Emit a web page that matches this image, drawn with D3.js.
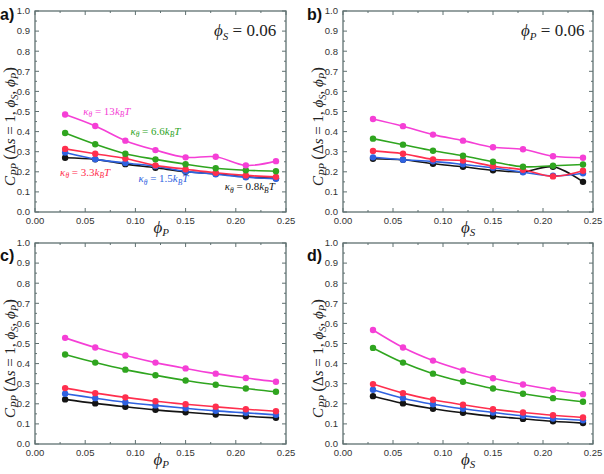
<!DOCTYPE html>
<html><head><meta charset="utf-8">
<script src="https://cdn.jsdelivr.net/npm/d3@7"></script>
<style>body{margin:0;background:#fff}svg{display:block}</style>
</head><body>
<svg id="c" width="604" height="474"></svg>
<script>
const xValues = [0.03, 0.06, 0.09, 0.12, 0.15, 0.18, 0.21, 0.24];
const xTicks = [0.00, 0.05, 0.10, 0.15, 0.20, 0.25];
const yTicks = [0.0, 0.1, 0.2, 0.3, 0.4, 0.5, 0.6, 0.7, 0.8, 0.9, 1.0];
const seriesNames = ["0.8", "1.5", "3.3", "6.6", "13"];
const seriesColors = ["#141414", "#2f62e0", "#ff2f4e", "#2fa51f", "#f53fd6"];

// panel a: phi_S = 0.06, x = phi_P
const aBlack   = [0.270, 0.262, 0.238, 0.220, 0.200, 0.190, 0.175, 0.168];
const aBlue    = [0.296, 0.263, 0.244, 0.228, 0.202, 0.188, 0.173, 0.165];
const aRed     = [0.314, 0.290, 0.266, 0.232, 0.213, 0.195, 0.182, 0.175];
const aGreen   = [0.393, 0.337, 0.290, 0.262, 0.238, 0.218, 0.208, 0.203];
const aMagenta = [0.485, 0.428, 0.355, 0.308, 0.272, 0.275, 0.232, 0.253];
// panel b: phi_P = 0.06, x = phi_S
const bBlack   = [0.265, 0.260, 0.240, 0.225, 0.208, 0.200, 0.225, 0.150];
const bBlue    = [0.272, 0.260, 0.252, 0.237, 0.220, 0.198, 0.180, 0.193];
const bRed     = [0.304, 0.290, 0.262, 0.256, 0.228, 0.210, 0.177, 0.205];
const bGreen   = [0.365, 0.335, 0.305, 0.280, 0.250, 0.225, 0.230, 0.236];
const bMagenta = [0.463, 0.427, 0.385, 0.355, 0.322, 0.312, 0.277, 0.270];
// panel c: x = phi_P
const cBlack   = [0.222, 0.202, 0.185, 0.170, 0.158, 0.147, 0.138, 0.130];
const cBlue    = [0.250, 0.228, 0.208, 0.192, 0.178, 0.165, 0.155, 0.145];
const cRed     = [0.278, 0.253, 0.232, 0.213, 0.198, 0.185, 0.173, 0.163];
const cGreen   = [0.445, 0.405, 0.370, 0.342, 0.316, 0.295, 0.276, 0.260];
const cMagenta = [0.528, 0.480, 0.440, 0.405, 0.376, 0.350, 0.328, 0.310];
// panel d: x = phi_S
const dBlack   = [0.238, 0.202, 0.175, 0.155, 0.138, 0.125, 0.113, 0.104];
const dBlue    = [0.270, 0.228, 0.198, 0.175, 0.157, 0.140, 0.127, 0.118];
const dRed     = [0.298, 0.253, 0.220, 0.195, 0.173, 0.157, 0.143, 0.132];
const dGreen   = [0.478, 0.405, 0.350, 0.310, 0.276, 0.250, 0.228, 0.210];
const dMagenta = [0.567, 0.480, 0.415, 0.366, 0.327, 0.296, 0.270, 0.248];

const svg = d3.select("#c");
const SERIF = "'Liberation Serif','DejaVu Serif',serif";
const SANS = "'Liberation Sans',Arial,sans-serif";
const frameColor = "#5f7070";

function subText(g, parts, attrs) {
  const t = g.append("text");
  Object.entries(attrs).forEach(([k, v]) => t.attr(k, v));
  let shifted = 0;
  parts.forEach(p => {
    const s = t.append("tspan").text(p.t);
    if (p.i) s.attr("font-style", "italic");
    if (p.fs) s.attr("font-size", p.fs);
    const target = p.sub ? p.sub : 0;
    if (target !== shifted) { s.attr("dy", target - shifted); shifted = target; }
  });
  return t;
}

function drawPanel(cfg) {
  const x = d3.scaleLinear().domain([0, 0.25]).range([cfg.x0, cfg.x1]);
  const y = d3.scaleLinear().domain([0, 1]).range([cfg.y1, cfg.y0]);
  const g = svg.append("g");

  const majX = xTicks, minX = d3.range(0.025, 0.25, 0.05);
  const majY = yTicks, minY = d3.range(0.05, 1.0, 0.1);
  const tk = g.append("g").attr("stroke", frameColor).attr("stroke-width", 1);
  majX.forEach(v => {
    tk.append("line").attr("x1", x(v)).attr("x2", x(v)).attr("y1", cfg.y1).attr("y2", cfg.y1 - 4);
    tk.append("line").attr("x1", x(v)).attr("x2", x(v)).attr("y1", cfg.y0).attr("y2", cfg.y0 + 4);
  });
  minX.forEach(v => {
    tk.append("line").attr("x1", x(v)).attr("x2", x(v)).attr("y1", cfg.y1).attr("y2", cfg.y1 - 2);
    tk.append("line").attr("x1", x(v)).attr("x2", x(v)).attr("y1", cfg.y0).attr("y2", cfg.y0 + 2);
  });
  majY.forEach(v => {
    tk.append("line").attr("y1", y(v)).attr("y2", y(v)).attr("x1", cfg.x0).attr("x2", cfg.x0 + 4);
    tk.append("line").attr("y1", y(v)).attr("y2", y(v)).attr("x1", cfg.x1).attr("x2", cfg.x1 - 4);
  });
  minY.forEach(v => {
    tk.append("line").attr("y1", y(v)).attr("y2", y(v)).attr("x1", cfg.x0).attr("x2", cfg.x0 + 2);
    tk.append("line").attr("y1", y(v)).attr("y2", y(v)).attr("x1", cfg.x1).attr("x2", cfg.x1 - 2);
  });
  g.append("rect").attr("x", cfg.x0).attr("y", cfg.y0)
    .attr("width", cfg.x1 - cfg.x0).attr("height", cfg.y1 - cfg.y0)
    .attr("fill", "none").attr("stroke", frameColor).attr("stroke-width", 1.3);

  majX.forEach(v => g.append("text").attr("x", x(v)).attr("y", cfg.y1 + 12)
    .attr("text-anchor", "middle").attr("font-family", SANS).attr("font-size", 9.5)
    .attr("fill", "#333").text(d3.format(".2f")(v)));
  majY.forEach(v => g.append("text").attr("x", cfg.x0 - 5).attr("y", y(v) + 3.3)
    .attr("text-anchor", "end").attr("font-family", SANS).attr("font-size", 9.5)
    .attr("fill", "#333").text(d3.format(".1f")(v)));

  const cx = (cfg.x0 + cfg.x1) / 2;
  subText(g, [{t: "ϕ", i: 1}, {t: cfg.xsub, i: 1, sub: 3, fs: 11}],
    {x: cx - 7, y: cfg.y1 + 21, "font-family": SERIF, "font-size": 17, fill: "#222"});
  const yl = g.append("g").attr("transform", `translate(${cfg.x0 - 20},${(cfg.y0 + cfg.y1) / 2 + 15}) rotate(-90)`);
  subText(yl, [
    {t: "C", i: 1}, {t: "PP", i: 1, sub: 3, fs: 10.5},
    {t: "\u2009(", fs: 17, sub: 0}, {t: "Δ"}, {t: "s", i: 1}, {t: " = 1, "},
    {t: "ϕ", i: 1}, {t: "S", i: 1, sub: 3, fs: 10.5}, {t: ", ", sub: 0},
    {t: "ϕ", i: 1}, {t: "P", i: 1, sub: 3, fs: 10.5}, {t: ")", fs: 17, sub: 0}
  ], {x: 0, y: 0, "text-anchor": "middle", "font-family": SERIF, "font-size": 15, fill: "#222"});

  g.append("text").attr("x", cfg.lx).attr("y", cfg.ly).attr("font-family", SANS)
    .attr("font-weight", "bold").attr("font-size", 16).attr("fill", "#111").text(cfg.label);

  if (cfg.note) {
    subText(g, [{t: "ϕ", i: 1}, {t: cfg.note[0], i: 1, sub: 4, fs: 11}, {t: " = 0.06", sub: 0}],
      {x: cfg.x1 - 72, y: cfg.y0 + 25, "font-family": SERIF, "font-size": 17, fill: "#222"});
  }

  const line = d3.line().x((d, i) => x(xValues[i])).y(d => y(d)).curve(d3.curveCatmullRom.alpha(0.5));
  cfg.series.forEach((s, k) => {
    g.append("path").datum(s).attr("d", line).attr("fill", "none")
      .attr("stroke", seriesColors[k]).attr("stroke-width", 1.6);
    g.selectAll(null).data(s).join("circle")
      .attr("cx", (d, i) => x(xValues[i])).attr("cy", d => y(d)).attr("r", 3.2)
      .attr("fill", seriesColors[k]);
  });

  if (cfg.kappa) {
    cfg.kappa.forEach(kp => {
      subText(g, [{t: "κ", i: 1}, {t: "θ", i: 1, sub: 2.5, fs: 7.5}, {t: " = " + seriesNames[kp.s], sub: 0},
        {t: "k", i: 1}, {t: "B", i: 1, sub: 2.5, fs: 7.5}, {t: "T", i: 1, sub: 0}],
        {x: x(kp.x), y: y(kp.y), "font-family": SERIF, "font-size": 11, fill: seriesColors[kp.s]});
    });
  }
}

drawPanel({x0: 35, x1: 286, y0: 11, y1: 212, label: "a)", lx: 0, ly: 20, xsub: "P", note: ["S"],
  series: [aBlack, aBlue, aRed, aGreen, aMagenta],
  kappa: [{s: 4, x: 0.048, y: 0.485}, {s: 3, x: 0.095, y: 0.385}, {s: 2, x: 0.025, y: 0.18},
          {s: 1, x: 0.103, y: 0.148}, {s: 0, x: 0.189, y: 0.108}]});
drawPanel({x0: 343, x1: 593, y0: 11, y1: 212, label: "b)", lx: 307, ly: 20, xsub: "S", note: ["P"],
  series: [bBlack, bBlue, bRed, bGreen, bMagenta]});
drawPanel({x0: 35, x1: 286, y0: 243, y1: 444, label: "c)", lx: 0, ly: 261, xsub: "P",
  series: [cBlack, cBlue, cRed, cGreen, cMagenta]});
drawPanel({x0: 343, x1: 593, y0: 243, y1: 444, label: "d)", lx: 307, ly: 261, xsub: "S",
  series: [dBlack, dBlue, dRed, dGreen, dMagenta]});
</script>
</body></html>
